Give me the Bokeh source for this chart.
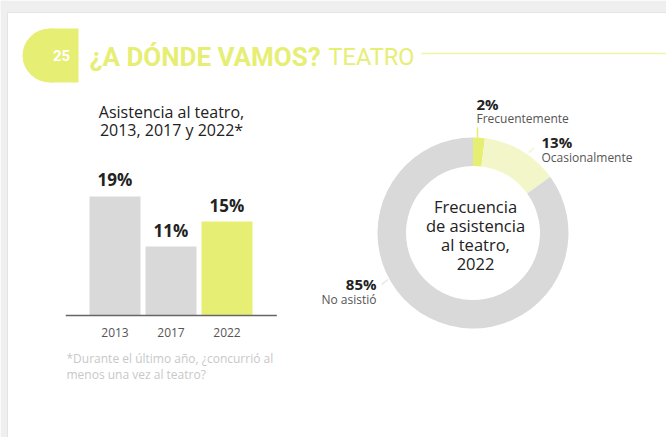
import numpy as np
from bokeh.plotting import figure
from bokeh.models import Range1d
from bokeh.core.properties import value
from bokeh.embed import file_html
from bokeh.resources import INLINE

# ---------------- data ----------------
years = ["2013", "2017", "2022"]
attendance = [19, 11, 15]
attendance_labels = ["19%", "11%", "15%"]

freq_categories = ["Frecuentemente", "Ocasionalmente", "No asistió"]
freq_values = [2, 13, 85]
freq_labels = ["2%", "13%", "85%"]

page_number = "25"
title_bold = "¿A DÓNDE VAMOS?"
title_light = "TEATRO"
bar_title = ["Asistencia al teatro,", "2013, 2017 y 2022*"]
donut_title = ["Frecuencia", "de asistencia", "al teatro,", "2022"]
footnote = ["*Durante el último año, ¿concurrió al", "menos una vez al teatro?"]

# ---------------- layout ----------------
W, H = 666, 437
LEFT, TOP = 0, 0
def Y(py):  # page pixel y -> data y
    return TOP + H - py

YEL = "#e6ee74"
PALE = "#f3f6c9"
GRAY = "#d9d9d9"
DARK = "#222222"
FONT = value("Open Sans")

p = figure(width=W, height=H, output_backend="svg", toolbar_location=None,
           x_range=Range1d(LEFT, LEFT + W), y_range=Range1d(0, H),
           min_border=0)
p.axis.visible = False
p.grid.visible = False
p.outline_line_color = None
p.background_fill_color = "white"
p.border_fill_color = "white"

# grey page frame
p.quad(left=[0], right=[LEFT + W], bottom=[Y(12)], top=[Y(0)], fill_color="#efefef", line_color=None)
p.quad(left=[0], right=[7], bottom=[Y(H)], top=[Y(0)], fill_color="#efefef", line_color=None)
p.segment(x0=[7], y0=[Y(12)], x1=[LEFT + W], y1=[Y(12)], line_color="#e4e4e4", line_width=1)
p.segment(x0=[7], y0=[Y(12)], x1=[7], y1=[Y(H)], line_color="#e4e4e4", line_width=1)

# badge
p.quad(left=[49], right=[78], bottom=[Y(82)], top=[Y(28)], fill_color=YEL, line_color=None)
p.ellipse(x=[49.5], y=[Y(55)], width=55, height=54, fill_color=YEL, line_color=None)
p.text(x=[61], y=[Y(55)], text=[page_number], text_font=value("Roboto"), text_font_style="bold",
       text_font_size="15px", text_color="white", text_align="center", text_baseline="middle")

# header title
p.text(x=[89], y=[Y(56)], text=[title_bold], text_font=value("Roboto"), text_font_style="bold",
       text_font_size="26px", text_color=YEL, text_align="left", text_baseline="middle")
p.text(x=[328], y=[Y(56)], text=[title_light], text_font=value("Roboto"),
       text_font_size="23.5px", text_color=YEL, text_align="left", text_baseline="middle")
p.segment(x0=[421], y0=[Y(53)], x1=[LEFT + W], y1=[Y(53)], line_color="#eef3a8", line_width=1.5)

# ---------------- bar chart ----------------
base_py, px_per_unit = 315.0, 6.265
p.extra_y_ranges = {"by": Range1d(-(TOP + H - base_py) / px_per_unit, (base_py - TOP) / px_per_unit)}
x0_px, step_px = 114.5, 56.0
p.extra_x_ranges = {"bx": Range1d((LEFT - x0_px) / step_px, (LEFT + W - x0_px) / step_px)}

idx = list(range(len(years)))
colors = [GRAY, GRAY, YEL]
p.vbar(x=idx, top=attendance, bottom=0, width=0.91, fill_color=colors, line_color=None,
       x_range_name="bx", y_range_name="by")
p.text(x=idx, y=attendance, text=attendance_labels, x_range_name="bx", y_range_name="by",
       y_offset=-5, text_font=FONT, text_font_style="bold", text_font_size="17px",
       text_color=DARK, text_align="center", text_baseline="bottom")
p.text(x=idx, y=[0] * len(idx), text=years, x_range_name="bx", y_range_name="by",
       y_offset=17, text_font=FONT, text_font_size="12px", text_color="#555555",
       text_align="center", text_baseline="middle")
p.segment(x0=[-0.88], y0=[0], x1=[2.89], y1=[0], x_range_name="bx", y_range_name="by",
          line_color="#666666", line_width=1.5)

p.text(x=[171, 171], y=[Y(111), Y(129)], text=bar_title, text_font=FONT, text_font_size="16px",
       text_color=DARK, text_align="center", text_baseline="middle")
p.text(x=[66, 66], y=[Y(358), Y(374)], text=footnote, text_font=FONT, text_font_size="12px",
       text_color="#c8c8c8", text_align="left", text_baseline="middle")

# ---------------- donut ----------------
cx, cy = 472.5, Y(232.5)
fr = np.array(freq_values, dtype=float) / sum(freq_values)
cum = np.concatenate([[0], np.cumsum(fr)])
start = np.pi / 2 - 2 * np.pi * cum[:-1]
end = np.pi / 2 - 2 * np.pi * cum[1:]
p.annular_wedge(x=cx, y=cy, inner_radius=67, outer_radius=95.5, inner_radius_units="screen",
                outer_radius_units="screen", start_angle=end.tolist(), end_angle=start.tolist(),
                fill_color=[YEL, PALE, GRAY], line_color=None)

p.text(x=[475] * 4, y=[Y(206), Y(225), Y(244), Y(263)], text=donut_title, text_font=FONT,
       text_font_size="16.5px", text_color=DARK, text_align="center", text_baseline="middle")

# labels
p.segment(x0=[477], y0=[Y(127)], x1=[477], y1=[Y(139)], line_color=YEL, line_width=1.5)
p.segment(x0=[533.5], y0=[Y(147.5)], x1=[528.5], y1=[Y(152)], line_color=PALE, line_width=1.5)
p.segment(x0=[381], y0=[Y(284)], x1=[387.5], y1=[Y(279)], line_color="#e6e6e6", line_width=1.5)

p.text(x=[476, 541, 376], y=[Y(103), Y(141), Y(283)], text=freq_labels,
       text_align=["left", "left", "right"], text_font=FONT, text_font_style="bold",
       text_font_size="15px", text_color=DARK, text_baseline="middle")
p.text(x=[476, 541, 376], y=[Y(118), Y(157), Y(299)], text=freq_categories,
       text_align=["left", "left", "right"], text_font=FONT,
       text_font_size="12px", text_color="#555555", text_baseline="middle")

open("out.html", "w").write(file_html(p, INLINE))
